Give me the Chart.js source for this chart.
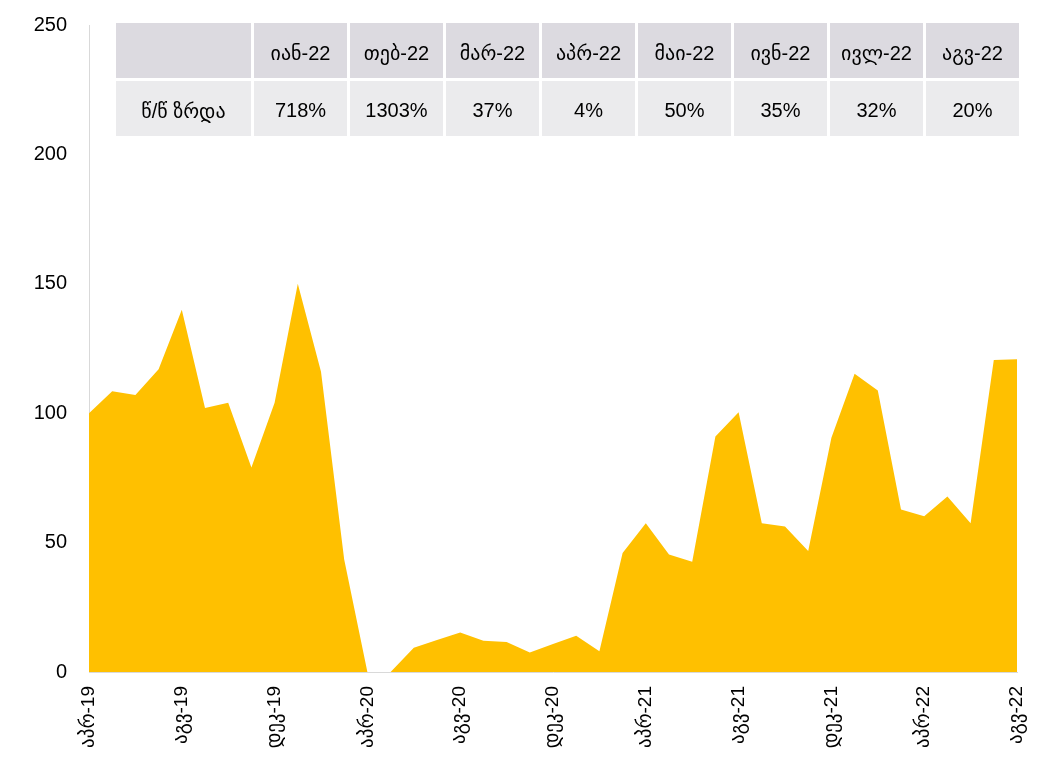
<!DOCTYPE html>
<html>
<head>
<meta charset="utf-8">
<script src="https://cdn.jsdelivr.net/npm/chart.js@4"></script>
<style>
  body { margin: 0; background: #fff; }
  #wrap { position: relative; width: 1046px; height: 763px; }
  #yoy {
    position: absolute; left: 113px; top: 20px; width: 909px;
    table-layout: fixed;
    border-collapse: separate; border-spacing: 3px;
    font-family: 'Liberation Sans', 'DejaVu Sans', sans-serif; font-size: 20px; color: #000;
  }
  #yoy td { text-align: center; height: 55px; padding: 0; padding-top: 4px; box-sizing: border-box; }
  #yoy tr.head td { background: #dcdae0; }
  #yoy tr.body td { background: #ebebed; }
</style>
</head>
<body>
<div id="wrap">
  <canvas id="c"></canvas>
  <table id="yoy"></table>
</div>
<script>
// თვეები აპრ-19 ... აგვ-22
const months = [
  'აპრ-19','მაი-19','ივნ-19','ივლ-19','აგვ-19','სექ-19','ოქტ-19','ნოე-19','დეკ-19',
  'იან-20','თებ-20','მარ-20','აპრ-20','მაი-20','ივნ-20','ივლ-20','აგვ-20','სექ-20','ოქტ-20','ნოე-20','დეკ-20',
  'იან-21','თებ-21','მარ-21','აპრ-21','მაი-21','ივნ-21','ივლ-21','აგვ-21','სექ-21','ოქტ-21','ნოე-21','დეკ-21',
  'იან-22','თებ-22','მარ-22','აპრ-22','მაი-22','ივნ-22','ივლ-22','აგვ-22'
];
const values = [
  100, 108.5, 107, 117, 140, 102, 104, 79, 104,
  150, 116, 43.5, 0, 0, 9.4, 12.4, 15.3, 12.1, 11.6, 7.5, 10.8,
  14, 8, 46, 57.5, 45.4, 42.6, 91, 100.4, 57.5, 56.2, 46.8,
  90.5, 115.2, 108.8, 62.8, 60.2, 67.8, 57.5, 120.6, 120.8
];
const yTicks = [0, 50, 100, 150, 200, 250];

// ცხრილი
const tableMonths = ['იან-22','თებ-22','მარ-22','აპრ-22','მაი-22','ივნ-22','ივლ-22','აგვ-22'];
const yoyGrowth = ['718%','1303%','37%','4%','50%','35%','32%','20%'];
const rowLabel = 'წ/წ ზრდა';

const tbl = document.getElementById('yoy');
tbl.innerHTML =
  '<colgroup><col style="width:135px">' + tableMonths.map(() => '<col>').join('') + '</colgroup>' +
  '<tr class="head"><td></td>' + tableMonths.map(m => `<td>${m}</td>`).join('') + '</tr>' +
  '<tr class="body"><td>' + rowLabel + '</td>' + yoyGrowth.map(v => `<td>${v}</td>`).join('') + '</tr>';

const FONT = "'Liberation Sans', 'DejaVu Sans', sans-serif";

new Chart(document.getElementById('c'), {
  type: 'line',
  data: {
    labels: months,
    datasets: [{
      data: values,
      fill: 'origin',
      backgroundColor: '#ffc000',
      borderWidth: 0,
      pointRadius: 0,
      tension: 0
    }]
  },
  options: {
    responsive: true,
    maintainAspectRatio: false,
    animation: false,
    layout: { padding: { top: 25, right: 29, left: 0, bottom: 0 } },
    plugins: { legend: { display: false }, tooltip: { enabled: false } },
    scales: {
      x: {
        offset: false,
        grid: { display: false, drawTicks: false },
        border: { color: '#d9d9d9', width: 1 },
        ticks: {
          autoSkip: false,
          maxRotation: 90,
          minRotation: 90,
          padding: 14,
          color: '#000',
          font: { family: FONT, size: 19 },
          callback: (v, i) => (i % 4 === 0 ? months[i] : '')
        },
        afterFit: s => {
          s.height = 91;
          s.paddingLeft = 0; s.paddingRight = 0;
        }
      },
      y: {
        min: 0,
        max: 250,
        afterBuildTicks: s => { s.ticks = yTicks.map(v => ({ value: v })); },
        grid: { display: false, drawTicks: false },
        border: { color: '#d9d9d9', width: 1 },
        ticks: { padding: 22, color: '#000', font: { family: FONT, size: 20 } },
        afterFit: s => {
          s.width = 89;
          s.paddingTop = 0; s.paddingBottom = 0;
        }
      }
    }
  }
});
</script>
</body>
</html>
